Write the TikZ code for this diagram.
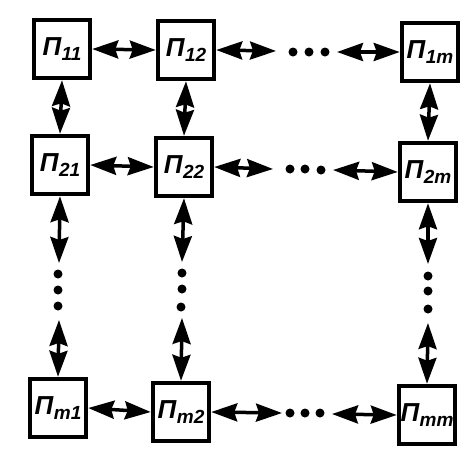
\documentclass[tikz,border=0pt]{standalone}
\usepackage{fontspec}
\setsansfont{Liberation Sans}
\usetikzlibrary{arrows.meta}

\newcommand\pn[1]{П\kern0.5pt\raisebox{-5pt}{\fontsize{19}{19}\selectfont #1}}

\begin{document}
\begin{tikzpicture}[x=1pt, y=-1pt,
  font=\sffamily\bfseries\itshape\fontsize{26}{26}\selectfont,
  pe/.style={draw, line width=4.5pt, minimum width=56pt, minimum height=58pt, inner sep=0pt},
  link/.style={{Stealth[length=26pt,width=18pt,inset=3pt]}-{Stealth[length=26pt,width=18pt,inset=3pt]}, line width=3.5pt},
  dot/.style={circle, fill, inner sep=0pt, minimum size=9pt},
]
\useasboundingbox (0,0) rectangle (476,456);

%% ============ processing elements ============
\node[pe] (p11) at (62,49)  {\pn{11}};
\node[pe] (p12) at (186,50) {\pn{12}};
\node[pe] (p1m) at (430,52) {\pn{1m}};
\node[pe] (p21) at (60,165) {\pn{21}};
\node[pe] (p22) at (184,167) {\pn{22}};
\node[pe] (p2m) at (428,172) {\pn{2m}};
\node[pe] (pm1) at (58,408) {\pn{m1}};
\node[pe] (pm2) at (181,412) {\pn{m2}};
\node[pe] (pmm) at (427,415) {\pn{mm}};

%% ============ dots ============
% rows
\node[dot] (r1a) at (293,52) {}; \node[dot] (r1b) at (309,52) {}; \node[dot] (r1c) at (325,52) {};
\node[dot] (r2a) at (290,169) {}; \node[dot] (r2b) at (305,169) {}; \node[dot] (r2c) at (321,170) {};
\node[dot] (rma) at (290,413) {}; \node[dot] (rmb) at (305,413) {}; \node[dot] (rmc) at (320,413) {};
% columns
\node[dot] (c1a) at (58,274) {}; \node[dot] (c1b) at (58,290) {}; \node[dot] (c1c) at (58,306) {};
\node[dot] (c2a) at (182,273) {}; \node[dot] (c2b) at (182,289) {}; \node[dot] (c2c) at (181,307) {};
\node[dot] (cma) at (428,276) {}; \node[dot] (cmb) at (428,291) {}; \node[dot] (cmc) at (428,309) {};

% free arrow ends next to the dots
\coordinate (r1l) at (276,51);  \coordinate (r1r) at (337,52);
\coordinate (r2l) at (273,169); \coordinate (r2r) at (333,170);
\coordinate (rml) at (282,413); \coordinate (rmr) at (332,414);
\coordinate (c1t) at (59,263);  \coordinate (c1d) at (59,320);
\coordinate (c2t) at (182,262); \coordinate (c2d) at (182,318);
\coordinate (cmt) at (428,264); \coordinate (cmd) at (428,323);

%% ============ links ============
\draw[link] (p11.east) -- (p12.west);
\draw[link] (p21.east) -- (p22.west);
\draw[link] (pm1.east) -- (pm2.west);
\draw[link] (p12.east) -- (r1l);
\draw[link] (r1r) -- (p1m.west);
\draw[link] (p22.east) -- (r2l);
\draw[link] (r2r) -- (p2m.west);
\draw[link] (pm2.east) -- (rml);
\draw[link] (rmr) -- (pmm.west);

\draw[link] (p11.south) -- (p21.north);
\draw[link] (p12.south) -- (p22.north);
\draw[link] (p1m.south) -- (p2m.north);
\draw[link] (p21.south) -- (c1t);
\draw[link] (c1d) -- (pm1.north);
\draw[link] (p22.south) -- (c2t);
\draw[link] (c2d) -- (pm2.north);
\draw[link] (p2m.south) -- (cmt);
\draw[link] (cmd) -- (pmm.north);

\end{tikzpicture}
\end{document}
